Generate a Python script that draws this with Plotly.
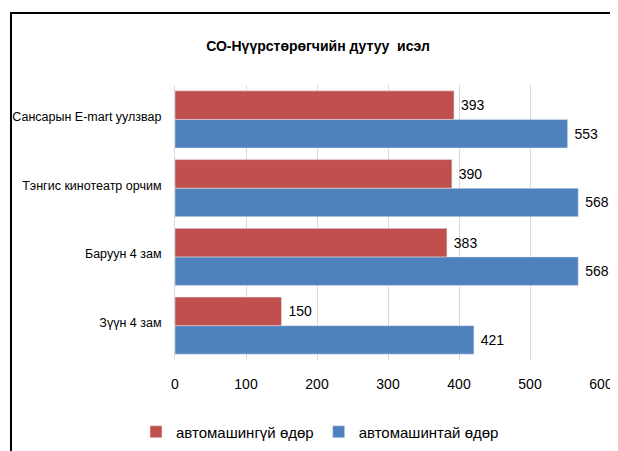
import plotly.graph_objects as go

categories = ["Зүүн 4 зам", "Баруун 4 зам", "Тэнгис кинотеатр орчим", "Сансарын E-mart уулзвар"]
no_car_day = [150, 383, 390, 393]
car_day = [421, 568, 568, 553]
x_ticks = [0, 100, 200, 300, 400, 500, 600]

RED = "#C0504D"
BLUE = "#4F81BD"
FONT = "Liberation Sans, Arial, sans-serif"

fig = go.Figure()
fig.add_trace(go.Bar(
    y=categories, x=car_day, orientation="h", name="автомашинтай өдөр",
    marker_color=BLUE, text=car_day, texttemplate=" %{x}", textposition="outside",
    textfont=dict(size=14, color="#000000", family=FONT), cliponaxis=False,
    legendrank=2,
))
fig.add_trace(go.Bar(
    y=categories, x=no_car_day, orientation="h", name="автомашингүй өдөр",
    marker_color=RED, text=no_car_day, texttemplate=" %{x}", textposition="outside",
    textfont=dict(size=14, color="#000000", family=FONT), cliponaxis=False,
    legendrank=1,
))

# page body has an 8px margin, so the figure is drawn 8px in from the top-left
OFF = 8
W, H = 618 - OFF, 451 - OFF
L, R, T, B = 175 - OFF, 17, 85 - OFF, 91
pw, ph = W - L - R, H - T - B
def px(x):
    return (x - OFF - L) / pw
def py(y):
    return (H - B - (y - OFF)) / ph

fig.update_layout(
    width=W, height=H,
    margin=dict(l=L, r=R, t=T, b=B, autoexpand=False),
    paper_bgcolor="white", plot_bgcolor="white",
    barmode="group", bargap=0.17, bargroupgap=0,
    font=dict(family=FONT, size=14, color="#000000"),
    title=dict(text="<b>СО-Нүүрстөрөгчийн дутуу  исэл</b>",
               x=(318 - OFF) / W, xanchor="center", xref="container",
               y=1 - (46 - OFF) / H, yref="container", yanchor="middle",
               font=dict(size=14, family=FONT)),
    xaxis=dict(range=[0, 600], tickvals=x_ticks, showgrid=True, gridcolor="#D9D9D9",
               gridwidth=1, zeroline=False, showline=False, ticks="",
               ticklabelstandoff=14,
               tickfont=dict(size=14), fixedrange=True, automargin=False),
    yaxis=dict(categoryorder="array", categoryarray=categories, showgrid=False,
               showline=True, linecolor="#D9D9D9", ticks="", ticklabelstandoff=10,
               ticklabelshift=-3,
               tickfont=dict(size=12.5), automargin=False),
    legend=dict(orientation="h", x=px(320), xanchor="center",
                y=py(432), yanchor="middle", font=dict(size=15), itemwidth=30,
                traceorder="normal"),
    showlegend=True,
    shapes=[dict(type="path", xref="paper", yref="paper",
                 path=f"M {px(11)},{py(470)} L {px(11)},{py(13)} L {px(640)},{py(13)}",
                 line=dict(color="#000000", width=2))],
)

fig.write_html("out.html")
